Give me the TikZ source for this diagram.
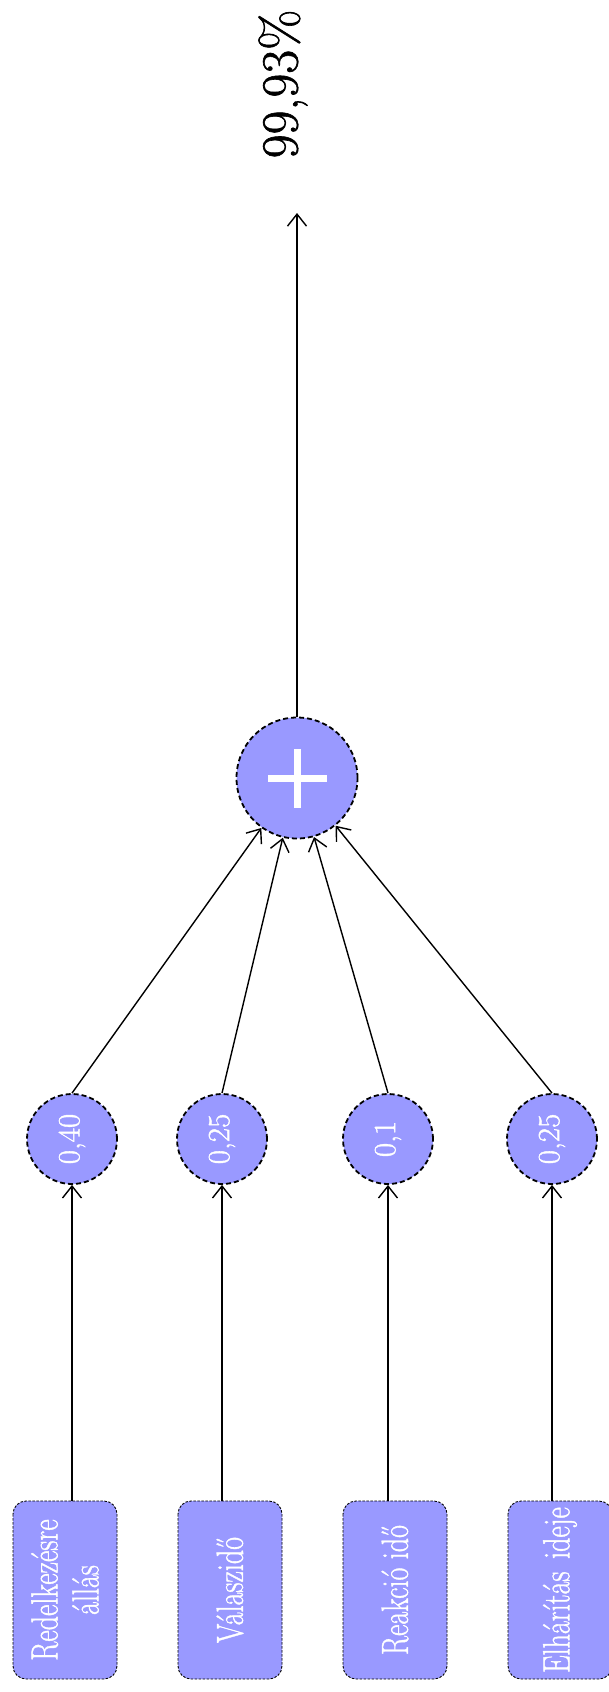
\documentclass[tikz,border=0pt]{standalone}
\usepackage{fontspec}
\newfontfamily\heavy{Latin Modern Roman}[FakeBold=1.2]
\usetikzlibrary{arrows.meta}
\definecolor{nodefill}{RGB}{153,153,255}
\newcommand{\tall}[1]{\scalebox{1}[1.35]{#1}}
\tikzset{
  arr/.style={line width=1.4pt,-{Straight Barb[length=12pt,width=19pt,line width=1.4pt]}},
  boxnode/.style={rotate=90,draw=black,line width=0.9pt,dash pattern=on 2.5pt off 1.5pt,
     fill=nodefill,rounded corners=13pt,minimum width=178pt,minimum height=104pt,
     inner sep=0pt,align=center,text=white,font=\heavy\fontsize{28}{41}\selectfont},
  wnode/.style={circle,draw=black,line width=1.8pt,dash pattern=on 5pt off 3pt,
     fill=nodefill,minimum size=90pt,inner sep=0pt,text=white,
     font=\heavy\fontsize{31}{36}\selectfont},
  sumnode/.style={circle,draw=black,line width=1.8pt,dash pattern=on 5pt off 3pt,
     fill=nodefill,minimum size=121pt,inner sep=0pt},
}
\begin{document}
\begin{tikzpicture}[x=1pt,y=-1pt]
\useasboundingbox (0,0) rectangle (609,1692);
% input boxes
\node[boxnode] (b1) at (65,1590) {\tall{Redelkezésre}\\\tall{állás}};
\node[boxnode] (b2) at (230,1590) {\tall{Válaszidő}};
\node[boxnode] (b3) at (395,1590) {\tall{Reakció idő}};
\node[boxnode] (b4) at (560,1590) {\tall{Elhárítás\hspace{0.45em}ideje}};
% weight circles
\node[wnode] (c1) at (72,1139) {\rotatebox{90}{0,40}};
\node[wnode] (c2) at (222,1139) {\rotatebox{90}{0,25}};
\node[wnode] (c3) at (388,1139) {\rotatebox{90}{0,1}};
\node[wnode] (c4) at (552,1139) {\rotatebox{90}{0,25}};
% sum node
\node[sumnode] (plus) at (297,778) {};
\fill[white] ([xshift=-29.5pt,yshift=-3.5pt]plus.center) rectangle ([xshift=29.5pt,yshift=3.5pt]plus.center);
\fill[white] ([xshift=-3.5pt,yshift=-29.5pt]plus.center) rectangle ([xshift=3.5pt,yshift=29.5pt]plus.center);
% result
\coordinate (tip) at (297,213);
\node[rotate=90,font=\heavy\fontsize{52}{56}\selectfont] (res) at (283,84) {99,93\%};
% connectors
\draw[arr] (b1.east -| c1) -- (c1);
\draw[arr] (b2.east -| c2) -- (c2);
\draw[arr] (b3.east -| c3) -- (c3);
\draw[arr] (b4.east -| c4) -- (c4);
\draw[arr] (c1.north) -- (plus);
\draw[arr] (c2.north) -- (plus);
\draw[arr] (c3.north) -- (plus);
\draw[arr] (c4.north) -- (plus);
\draw[arr] (plus) -- (tip);
\end{tikzpicture}
\end{document}
